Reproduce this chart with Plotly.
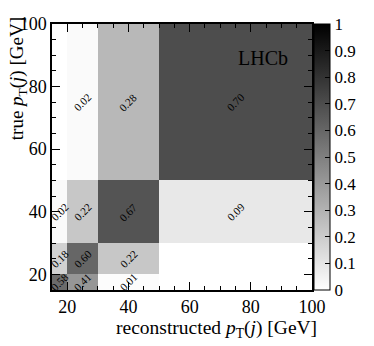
import plotly.graph_objects as go

# bin edges of reconstructed (x) and true (y) jet pT in GeV
x_edges = [15, 20, 30, 50, 100]
y_edges = [15, 20, 30, 50, 100]

# fractions per true-pT row (rows from low to high true pT)
row_15_20 = [0.58, 0.41, 0.01, 0.00]
row_20_30 = [0.18, 0.60, 0.22, 0.00]
row_30_50 = [0.02, 0.22, 0.67, 0.09]
row_50_100 = [0.00, 0.02, 0.28, 0.70]
z = [row_15_20, row_20_30, row_30_50, row_50_100]

cbar_ticks = [0, 0.1, 0.2, 0.3, 0.4, 0.5, 0.6, 0.7, 0.8, 0.9, 1]
cbar_labels = ["0", "0.1", "0.2", "0.3", "0.4", "0.5", "0.6", "0.7", "0.8", "0.9", "1"]

serif = "Liberation Serif"

fig = go.Figure(go.Heatmap(
    x=x_edges, y=y_edges, z=z,
    zmin=0, zmax=1,
    colorscale=[[0, "white"], [1, "black"]],
    hoverinfo="skip",
    colorbar=dict(
        x=1.008, xanchor="left", y=0.5, yanchor="middle",
        len=1, lenmode="fraction", thickness=16,
        outlinecolor="black", outlinewidth=1,
        tickvals=cbar_ticks, ticktext=cbar_labels,
        ticks="inside", ticklen=5, tickcolor="black",
        tickfont=dict(family=serif, size=17, color="black"),
        xpad=0, ypad=0,
    ),
))

# rotated value labels in the centre of every non-empty cell
for i, row in enumerate(z):
    for j, v in enumerate(row):
        if v <= 0:
            continue
        fig.add_annotation(
            x=(x_edges[j] + x_edges[j + 1]) / 2,
            y=(y_edges[i] + y_edges[i + 1]) / 2,
            text=f"{v:.2f}", textangle=-45, showarrow=False,
            font=dict(family=serif, size=11, color="black"),
        )

fig.add_annotation(
    x=0.915, y=0.872, xref="paper", yref="paper",
    xanchor="right", yanchor="middle", showarrow=False,
    text="LHCb", font=dict(family=serif, size=20, color="black"),
)
fig.add_annotation(
    x=1.027, y=-0.145, xref="paper", yref="paper",
    xanchor="right", yanchor="middle", showarrow=False,
    text="reconstructed <i>p</i><sub>T</sub>(<i>j</i>) [GeV]",
    font=dict(family=serif, size=19.5, color="black"),
)
fig.add_annotation(
    x=-0.128, y=1.034, xref="paper", yref="paper",
    xanchor="center", yanchor="top", showarrow=False, textangle=-90,
    text="true <i>p</i><sub>T</sub>(<i>j</i>) [GeV]",
    font=dict(family=serif, size=19, color="black"),
)

axis_style = dict(
    range=[15, 100], showgrid=False, zeroline=False, automargin=False,
    showline=True, linecolor="black", linewidth=1.5, mirror="ticks",
    ticks="inside", ticklen=8, tickcolor="black", tickwidth=1,
    tickvals=[20, 40, 60, 80, 100],
    minor=dict(ticks="inside", ticklen=4, dtick=5, tick0=0, tickcolor="black", showgrid=False),
    tickfont=dict(family=serif, size=18, color="black"),
)
fig.update_xaxes(**axis_style)
fig.update_yaxes(**axis_style)

# page body adds an 8px offset, so the figure is sized to the remaining view
fig.update_layout(
    width=366, height=338,
    margin=dict(l=44, r=59, t=16, b=56),
    paper_bgcolor="white", plot_bgcolor="white",
    showlegend=False,
)

fig.write_html("out.html")
